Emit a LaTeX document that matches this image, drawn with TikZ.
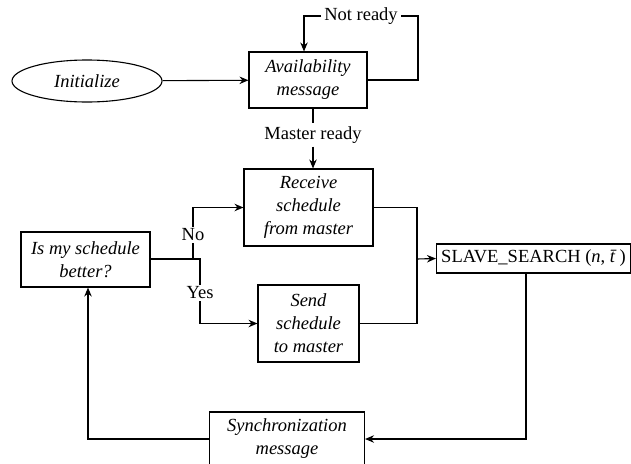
\documentclass[tikz,border=0pt]{standalone}
\usepackage{fontspec}
\setmainfont{Liberation Serif}
\usetikzlibrary{arrows.meta,shapes.geometric}
\begin{document}
\begin{tikzpicture}[x=1pt,y=-1pt,
  every node/.style={font=\fontsize{18.5}{23}\selectfont},
  box/.style={draw,line width=1.1pt,inner sep=0pt,align=center,font=\fontsize{18.5}{23}\selectfont\itshape},
  lab/.style={fill=white,inner sep=3pt},
  conn/.style={line width=1.1pt},
  arr/.style={conn,-{Stealth[length=9pt,width=7.5pt,inset=3pt]}}]
\useasboundingbox (0,0) rectangle (631,463);
\node[box,ellipse,minimum width=150pt,minimum height=42pt] (init) at (87,81) {Initialize};
\node[box,minimum width=118pt,minimum height=56pt] (avail) at (308,80) {Availability\\message};
\node[box,minimum width=129pt,minimum height=77pt] (recv) at (308.5,207.5) {Receive\\schedule\\from master};
\node[box,minimum width=129pt,minimum height=55pt] (better) at (85.5,259.5) {Is my schedule\\better?};
\node[box,minimum width=101pt,minimum height=77pt] (send) at (308.5,323.5) {Send\\schedule\\to master};
\node[box,font=\fontsize{18.5}{23}\selectfont,minimum width=194pt,minimum height=29pt] (slave) at (533.5,258.5) {SLAVE\_SEARCH (\textit{n}, \textit{\=t})};
\node[box,minimum width=155pt,minimum height=54pt] (sync) at (287,439) {Synchronization\\message};
% labels
\node[lab] (notready) at (361,16) {Not ready};
\node[lab] (master) at (313,135) {Master ready};
\node[lab,inner sep=2pt] (no) at (193,235) {No};
\node[lab,inner sep=2pt] (yes) at (200,293) {Yes};
% coordinates
\coordinate (nrR) at (418,16);
\coordinate (nrL) at (304,16);
\coordinate (split) at (200,259);
\coordinate (noB) at (193,259);
\coordinate (join) at (417,259);
\coordinate (down) at (526,439);
\coordinate (left) at (88,439);
% connectors
\draw[arr] (init) -- (avail);
\draw[conn] (avail.east) -| (nrR) -- (notready.east);
\draw[arr] (notready.west) -| (avail.north -| nrL);
\draw[conn] (avail.south -| master) -- (master.north);
\draw[arr] (master.south) -- (recv.north -| master);
\draw[conn] (better.east |- split) -- (split) -- (yes.north);
\draw[arr] (yes.south) |- (send.west);
\draw[conn] (noB) -- (no.south);
\draw[arr] (no.north) |- (recv.west);
\draw[conn] (recv.east) -| (join);
\draw[conn] (send.east) -| (join);
\draw[arr] (join) -- (slave.west);
\draw[arr] (slave.south -| down) |- (sync.east);
\draw[arr] (sync.west) -| (better.south -| left);
\end{tikzpicture}
\end{document}
